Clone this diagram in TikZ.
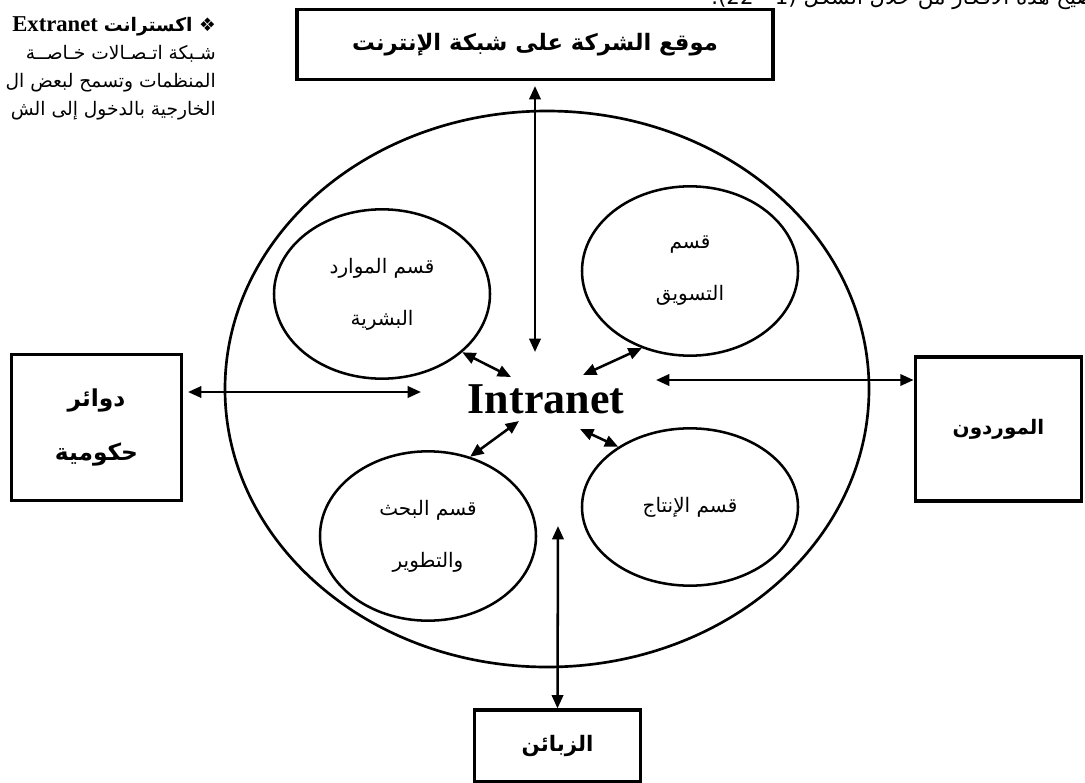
\documentclass[tikz,border=0pt]{standalone}
\usepackage{fontspec}
\usepackage{tikz}
\usetikzlibrary{arrows.meta,shapes.geometric,calc}
\TeXXeTstate=1
\newfontfamily\arabicfont[Script=Arabic]{DejaVu Sans}
\newfontfamily\romanfont{Liberation Serif}
\newcommand{\artext}[1]{\beginR #1\endR}

\begin{document}
\begin{tikzpicture}[
    x=0.75pt,y=-0.75pt,
    partybox/.style={draw, line width=2.3pt, inner sep=0pt, align=center,
      font=\arabicfont\bfseries\fontsize{17.5}{41}\selectfont},
    unit/.style={ellipse, draw, line width=1.9pt, inner sep=0pt,
      minimum width=162pt, minimum height=127pt, align=center,
      font=\arabicfont\fontsize{15}{39}\selectfont},
    link/.style={{Triangle[length=10pt,width=8.5pt]}-{Triangle[length=10pt,width=8.5pt]},
      line width=1.9pt}
  ]
    \useasboundingbox (0,0) rectangle (1085,782);
    \clip (0,0) rectangle (1085,782);

    % text of the page round the figure
    \node[anchor=base east, inner sep=0pt,
      font=\arabicfont\fontsize{16}{20}\selectfont] (caption) at (1112,4)
      {\artext{توضيح هذه الأفكار من خلال الشكل \hbox{(1 - 22)}.}};
    \node[anchor=north east, inner sep=0pt, align=right,
      font=\arabicfont\fontsize{14}{21}\selectfont] (extra) at (216,16)
      {\artext{{\bfseries ❖ اكسترانت}\ \hbox{\romanfont\bfseries\fontsize{17}{21}\selectfont Extranet}}\\
       \artext{شـبكة اتـصـالات خـاصــة}\\
       \artext{المنظمات وتسمح لبعض ال}\\
       \artext{الخارجية بالدخول إلى الش}};

    % the company network
    \node[ellipse, draw, line width=2pt, minimum width=483pt, minimum height=417pt]
      (net) at (547,389) {};
    \node[font=\romanfont\bfseries\fontsize{33}{36}\selectfont, inner sep=0pt]
      (intra) at (546,399) {Intranet};

    \node[unit] (hr)   at (382,294) {\artext{قسم الموارد}\\\artext{البشرية}};
    \node[unit] (mkt)  at (690,271) {\artext{قسم}\\\artext{التسويق}};
    \node[unit] (rnd)  at (428,536) {\artext{قسم البحث}\\\artext{والتطوير}};
    \node[unit, minimum height=118pt] (prod) at (690,507) {\artext{قسم الإنتاج}};

    % outside parties
    \node[partybox, minimum width=357pt, minimum height=52pt,
      font=\arabicfont\bfseries\fontsize{17}{20}\selectfont] (web) at (535,44.5)
      {\artext{موقع الشركة على شبكة الإنترنت}};
    \node[partybox, minimum width=127pt, minimum height=109pt] (gov) at (96.5,427.5)
      {\artext{دوائر}\\\artext{حكومية}};
    \node[partybox, minimum width=125pt, minimum height=108pt,
      font=\arabicfont\bfseries\fontsize{15}{20}\selectfont] (sup) at (998.5,429)
      {\artext{الموردون}};
    \node[partybox, minimum width=125pt, minimum height=54pt,
      font=\arabicfont\bfseries\fontsize{16}{20}\selectfont] (cust) at (557.5,746)
      {\artext{الزبائن}};

    \coordinate (webend)  at (535,352);
    \coordinate (govend)  at (421,392);
    \coordinate (supend)  at (656,380);
    \coordinate (custend) at (558,526);
    \coordinate (hrend)   at (511,377);
    \coordinate (mktend)  at (583,375);
    \coordinate (rndend)  at (519,421);
    \coordinate (prodend) at (580,429);

    \draw[link, shorten <=4pt] (web.south) -- (webend);
    \draw[link, shorten <=4pt] (gov.east |- govend) -- (govend);
    \draw[link] (supend) -- (sup.west |- supend);
    \draw[link] (custend) -- (cust.north);

    \draw[link] (hr.-36) -- (hrend);
    \draw[link] (mkt.-122) -- (mktend);
    \draw[link] (rnd.62) -- (rndend);
    \draw[link] (prod.140) -- (prodend);
  \end{tikzpicture}
\end{document}
